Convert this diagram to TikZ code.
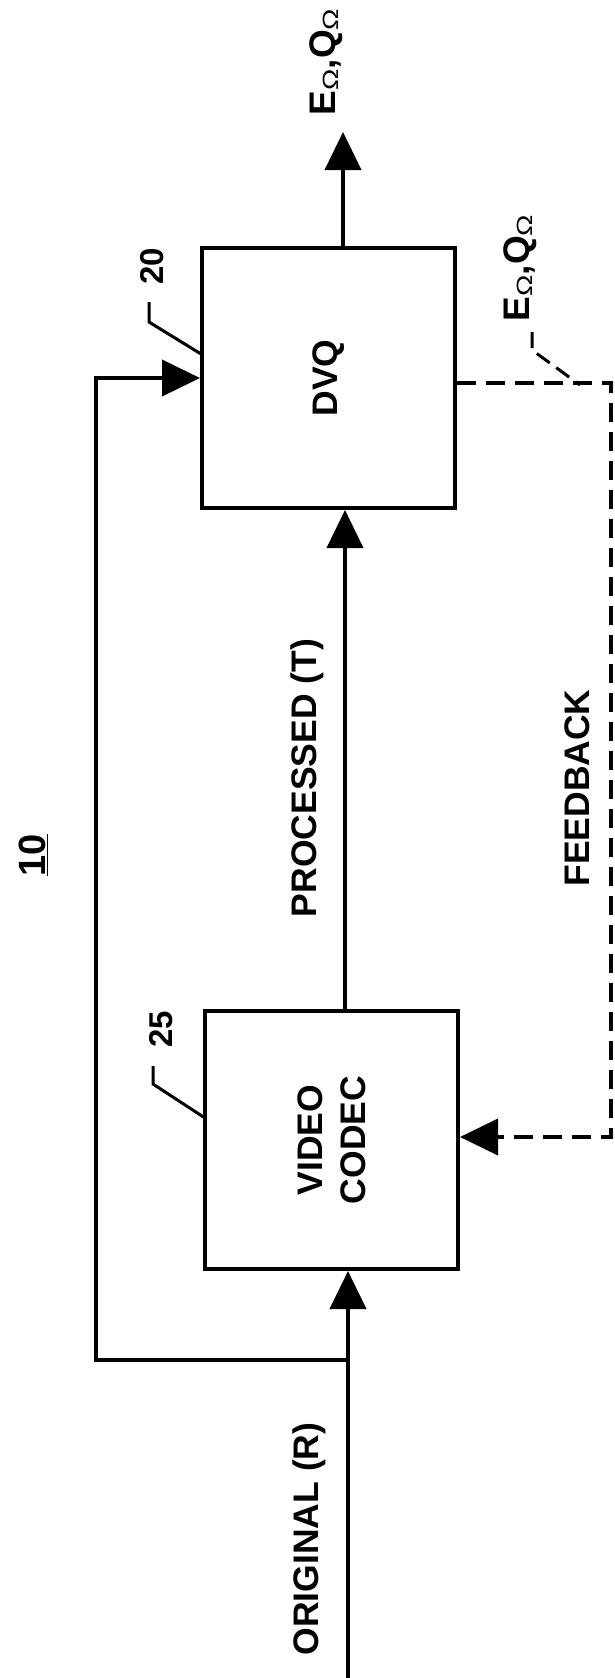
\documentclass[tikz,border=0pt]{standalone}
\usepackage{fontspec}
\setmainfont{Liberation Sans}
\usetikzlibrary{arrows.meta}
\newcommand{\omsub}{\raisebox{-3pt}{\fontsize{22}{22}\selectfont\mdseries\scalebox{1.3}[1]{Ω}}}
\newcommand{\EQlabel}{{\fontsize{37}{44}\selectfont E\omsub,Q\omsub}}
\begin{document}
\begin{tikzpicture}[x=1pt,y=-1pt,line join=miter,
  blk/.style={draw,line width=4pt,inner sep=0pt},
  lbl/.style={rotate=90,inner sep=0pt,font=\fontsize{35.5}{42.6}\selectfont\bfseries},
  refnum/.style={rotate=90,inner sep=0pt,font=\fontsize{33}{40}\selectfont\bfseries},
  sig/.style={line width=4pt,-{Triangle[length=38pt,width=36pt]}},
  fb/.style={line width=4pt,dash pattern=on 19pt off 10pt},
  lead/.style={line width=3pt},
  fblead/.style={line width=3pt,dash pattern=on 16pt off 8pt}]
\useasboundingbox[fill=white] (0,0) rectangle (614,1678);

% blocks
\node[blk,minimum width=253pt,minimum height=260pt] (dvq) at (328.5,378) {};
\node[blk,minimum width=253pt,minimum height=258pt] (codec) at (331.5,1140) {};
\node[lbl] (dvqtxt) at (dvq.center) {DVQ};
\node[lbl,align=center] (codectxt) at (codec.center) {VIDEO\\CODEC};

% labels
\node[lbl] (outlbl) at (326,62) {\EQlabel};
\node[lbl] (fblbl) at (520,268) {\EQlabel};
\node[lbl] (proc) at (307,778) {PROCESSED (T)};
\node[lbl] (feed) at (577,788) {FEEDBACK};
\node[lbl] (orig) at (309,1539) {ORIGINAL (R)};
\node[rotate=90,inner sep=0pt,font=\fontsize{38}{44}\selectfont\bfseries] (ten) at (33,855) {\underline{10}};
\node[refnum] (n20) at (152,266) {20};
\node[refnum] (n25) at (161,1029) {25};

% coordinates
\coordinate (outtip) at (343,132);
\coordinate (px) at (345,0);
\coordinate (inbot) at (348,1678);
\coordinate (br) at (348,1360);
\coordinate (lc) at (96,1360);
\coordinate (lt) at (96,378);
\coordinate (fr1) at (611,383);
\coordinate (fr2) at (611,1137);
\coordinate (l20a) at (149,302);
\coordinate (l20b) at (149,322);
\coordinate (l20c) at (201,354);
\coordinate (l25a) at (153,1066);
\coordinate (l25b) at (153,1084);
\coordinate (l25c) at (205,1118);
\coordinate (lfa) at (532,332);
\coordinate (lfb) at (532,350);
\coordinate (lfc) at (580,385);

% connectors
\draw[sig] (outtip |- dvq.north) -- (outtip);
\draw[sig] (px |- codec.north) -- (px |- dvq.south);
\draw[sig] (inbot) -- (inbot |- codec.south);
\draw[sig] (br) -- (lc) -- (lt) -- (lt -| dvq.west);
\draw[fb,-{Triangle[length=38pt,width=36pt]}] (fr1 -| dvq.east) -- (fr1) -- (fr2) -- (fr2 -| codec.east);

% leaders
\draw[lead] (l20a) -- (l20b) -- (l20c);
\draw[lead] (l25a) -- (l25b) -- (l25c);
\draw[fblead] (lfa) -- (lfb) -- (lfc);
\end{tikzpicture}
\end{document}
